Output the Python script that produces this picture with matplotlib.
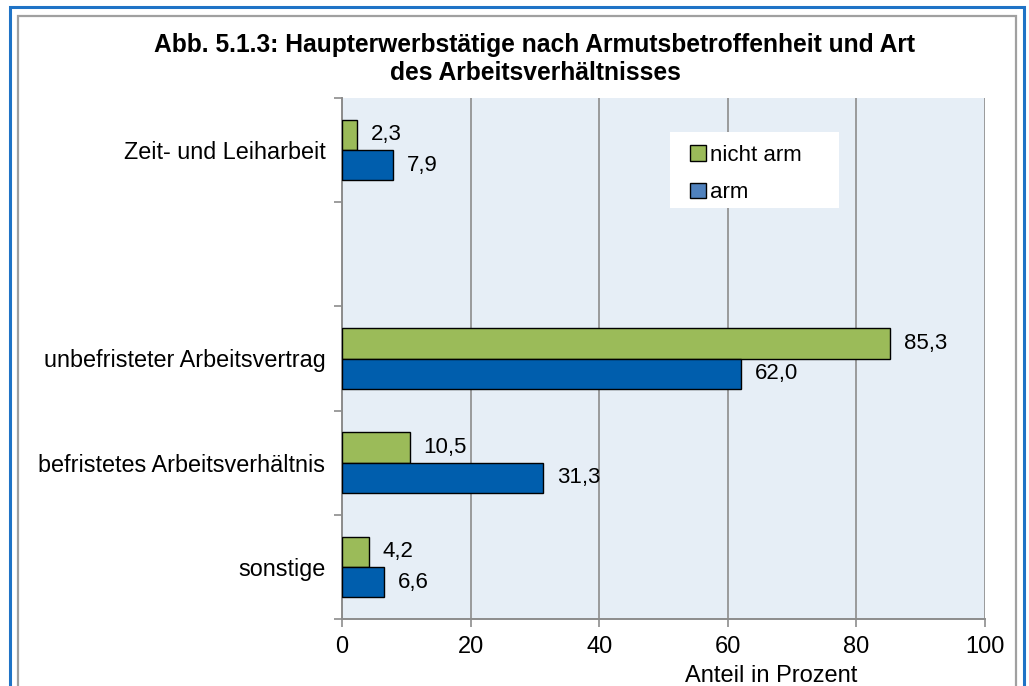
import matplotlib
matplotlib.use("Agg")
import matplotlib.pyplot as plt
from matplotlib.patches import Rectangle, Patch
import numpy as np

plt.rcParams['font.family'] = ['Liberation Sans', 'DejaVu Sans']

# Data (bottom to top)
categories = ["sonstige", "befristetes Arbeitsverhältnis", "unbefristeter Arbeitsvertrag", "", "Zeit- und Leiharbeit"]
nicht_arm = [4.2, 10.5, 85.3, None, 2.3]
arm = [6.6, 31.3, 62.0, None, 7.9]
series_names = ["nicht arm", "arm"]
xticks = [0, 20, 40, 60, 80, 100]
title = "Abb. 5.1.3: Haupterwerbstätige nach Armutsbetroffenheit und Art\ndes Arbeitsverhältnisses"
xlabel = "Anteil in Prozent"

W, H = 1029, 686
fig = plt.figure(figsize=(W / 100, H / 100), dpi=100)

def fx(px):
    return px / W

def fy(py):
    return 1 - py / H

# Frames
fig.patches.append(Rectangle((fx(10), fy(700)), fx(1024) - fx(10), fy(7) - fy(700),
                             transform=fig.transFigure, fill=False, edgecolor="#1F73C6", lw=2.2))
fig.patches.append(Rectangle((fx(18), fy(700)), fx(1016) - fx(18), fy(16) - fy(700),
                             transform=fig.transFigure, fill=False, edgecolor="#A0A0A0", lw=1.6))

L, R, T, B = 342, 985, 98, 619
ax = fig.add_axes([fx(L), fy(B), fx(R) - fx(L), fy(T) - fy(B)])
ax.set_facecolor("#E6EEF6")

def axx(px):
    return (px - L) / (R - L)

def axy(py):
    return (B - py) / (B - T)

green = "#9BBB59"
blue = "#005EAD"
bh = 0.29
y = np.arange(len(categories))
lab_fs = 16
for i in range(len(categories)):
    if nicht_arm[i] is not None:
        ax.barh(y[i] + bh / 2, nicht_arm[i], height=bh, color=green, edgecolor="black", lw=1.0, zorder=3)
        ax.annotate(f"{nicht_arm[i]:.1f}".replace(".", ","), (nicht_arm[i], y[i] + bh / 2),
                    xytext=(10, 0), textcoords="offset points", va="center", ha="left", fontsize=lab_fs)
    if arm[i] is not None:
        ax.barh(y[i] - bh / 2, arm[i], height=bh, color=blue, edgecolor="black", lw=1.0, zorder=3)
        ax.annotate(f"{arm[i]:.1f}".replace(".", ","), (arm[i], y[i] - bh / 2),
                    xytext=(10, 0), textcoords="offset points", va="center", ha="left", fontsize=lab_fs)

ax.set_xlim(0, 100)
ax.set_ylim(-0.5, len(categories) - 0.5)
ax.set_xticks(xticks)
ax.set_xticklabels([str(t) for t in xticks], fontsize=17)
ax.set_yticks(y)
ax.set_yticklabels(categories, fontsize=16.8)
ax.tick_params(axis="y", length=0, pad=12)
ax.set_yticks(np.arange(-0.5, len(categories), 1.0), minor=True)
ax.tick_params(axis="y", which="minor", length=6, color="#8C8C8C", width=1.2)
ax.tick_params(axis="x", length=6, color="#8C8C8C", width=1.2, pad=6)
ax.xaxis.grid(True, color="#8C8C8C", lw=1.2, zorder=1)
ax.set_axisbelow(True)
for s in ["top", "right"]:
    ax.spines[s].set_visible(False)
for s in ["left", "bottom"]:
    ax.spines[s].set_color("#8C8C8C")
    ax.spines[s].set_linewidth(1.4)

fig.text(fx(771), fy(676), xlabel, ha="center", va="center", fontsize=17)

# Legend box (white) and entries
ax.add_patch(Rectangle((axx(670), axy(208)), axx(839) - axx(670), axy(132) - axy(208),
                       transform=ax.transAxes, facecolor="white", edgecolor="none", zorder=4))
handles = [Patch(facecolor=green, edgecolor="black", lw=1.0),
           Patch(facecolor="#4F81BD", edgecolor="black", lw=1.0)]
leg = ax.legend(handles, series_names, loc="center left",
                bbox_to_anchor=(axx(690), axy(174)),
                frameon=False, fontsize=16, handlelength=0.7, handleheight=0.7,
                handletextpad=0.2, labelspacing=0.75, borderpad=0, borderaxespad=0)
leg.set_zorder(5)

fig.text(fx(535), fy(59), title, ha="center", va="center", fontsize=17.7, fontweight="bold",
         linespacing=1.17)

fig.savefig("out.png", dpi=100)
